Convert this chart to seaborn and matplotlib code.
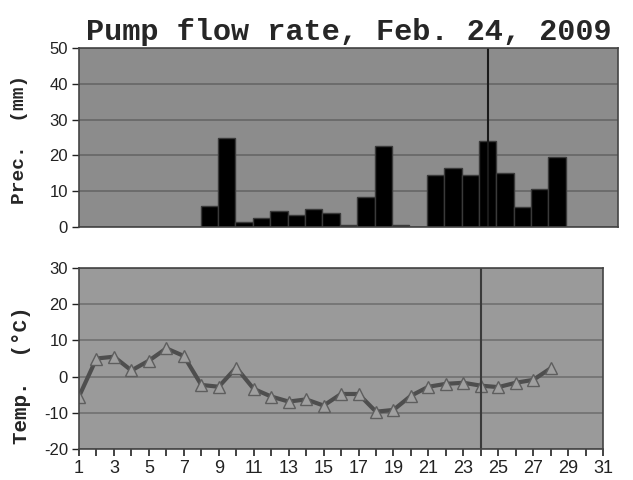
import numpy as np
import pandas as pd
import matplotlib
matplotlib.use("Agg")
import matplotlib.pyplot as plt
import seaborn as sns

days = list(range(1, 32))
prec = [0, 0, 0, 0, 0, 0, 0, 6, 25, 1.5, 2.5, 4.5, 3.5, 5, 4, 0.5, 8.5, 22.5, 0.5, 0,
        14.5, 16.5, 14.5, 24, 15, 5.5, 10.5, 19.5, 0, 0, 0]
temp_days = list(range(1, 29))
temp = [-5.5, 5, 5.5, 1.7, 4.4, 7.8, 5.7, -2.3, -2.8, 2.5, -3.4, -5.5, -6.9, -6.3,
        -8, -4.8, -4.8, -9.7, -9.2, -5.3, -2.8, -2, -1.7, -2.5, -2.9, -1.7, -0.9, 2.3]
event_day = 24

sns.set_style("white")
plt.rcParams['font.family'] = ['Liberation Sans Narrow', 'Liberation Sans', 'DejaVu Sans']
plt.rcParams['axes.unicode_minus'] = False
mono = ['Liberation Mono', 'DejaVu Sans Mono']

df_p = pd.DataFrame({"day": days, "prec": prec})
df_t = pd.DataFrame({"day": temp_days, "temp": temp})

fig = plt.figure(figsize=(6.33, 4.8), dpi=100)
ax1 = fig.add_axes([0.1248, 0.527, 0.8515, 0.373])
ax2 = fig.add_axes([0.1248, 0.0646, 0.828, 0.377])

# precipitation bars
sns.barplot(data=df_p, x="day", y="prec", color="black", width=1.0,
            edgecolor="#3a3a3a", linewidth=1, saturation=1, ax=ax1)
ax1.set_facecolor("#8c8c8c")
ax1.set_xlim(-0.5, len(days) - 0.5)
ax1.set_ylim(0, 50)
ax1.set_yticks([0, 10, 20, 30, 40, 50])
ax1.yaxis.grid(True, color="#666666", linewidth=1.2)
ax1.set_axisbelow(True)
ax1.axvline(days.index(event_day), color="#1a1a1a", linewidth=1.5)
ax1.set_xticks([])
ax1.set_xlabel("")
ax1.set_ylabel("Prec.  (mm)", family=mono, fontweight="bold", fontsize=14)
ax1.yaxis.set_label_coords(-0.094, 0.49)
ax1.set_title("Pump flow rate, Feb. 24, 2009", family=mono, fontweight="bold",
              fontsize=21.8, pad=6)

# temperature line
sns.lineplot(data=df_t, x="day", y="temp", color="#4e4e4e", linewidth=3,
             marker="^", markersize=8, markerfacecolor="#a0a0a0",
             markeredgecolor="#5e5e5e", markeredgewidth=1, ax=ax2)
ax2.set_facecolor("#9a9a9a")
ax2.set_xlim(1, 31)
ax2.set_ylim(-20, 30)
ax2.set_yticks([-20, -10, 0, 10, 20, 30])
ax2.set_xticks(range(1, 32, 2))
ax2.set_xticks(range(1, 32), minor=True)
ax2.yaxis.grid(True, color="#707070", linewidth=1.2)
ax2.set_axisbelow(True)
ax2.axvline(event_day, color="#3a3a3a", linewidth=1.5)
ax2.set_xlabel("")
ax2.set_ylabel("Temp.  (°C)", family=mono, fontweight="bold", fontsize=15)
ax2.yaxis.set_label_coords(-0.092, 0.41)

for ax in (ax1, ax2):
    for s in ax.spines.values():
        s.set_color("#444444")
        s.set_linewidth(1.2)
    ax.tick_params(axis="y", direction="out", length=5, width=1, color="#222222",
                   labelsize=12, labelcolor="#222222", pad=3, left=True)
ax2.tick_params(axis="x", which="both", direction="out", length=5, width=1.2,
                color="#222222", labelsize=13, labelcolor="#222222", pad=3, bottom=True)

fig.savefig("out.png", dpi=100)
